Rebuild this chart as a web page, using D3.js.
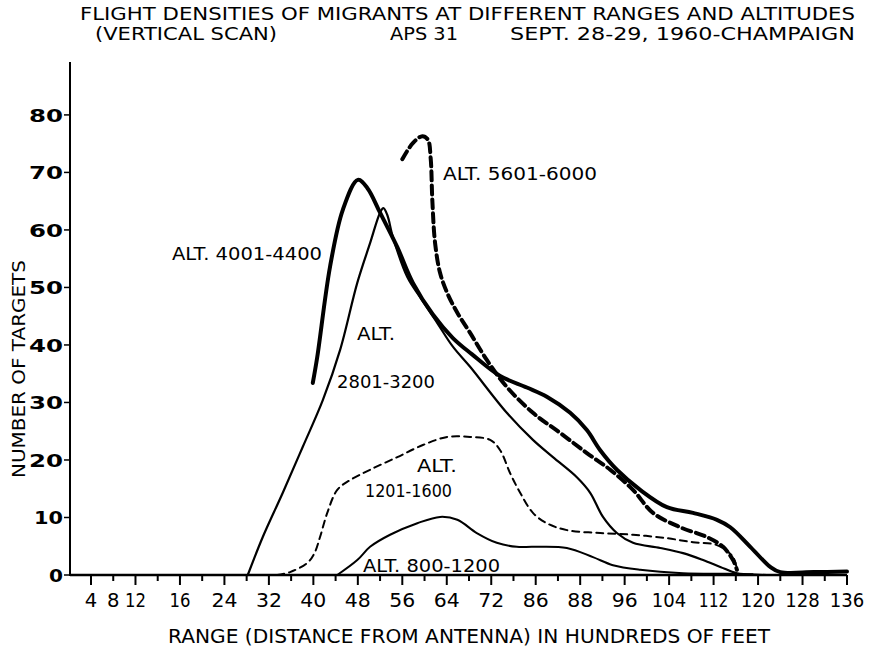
<!DOCTYPE html>
<html>
<head>
<meta charset="utf-8">
<script src="https://cdn.jsdelivr.net/npm/d3@7/dist/d3.min.js"></script>
<style>
  html, body { margin: 0; padding: 0; background: #fff; }
  svg { display: block; }
  text { font-family: "DejaVu Sans", "Liberation Sans", sans-serif; fill: #000; }
</style>
</head>
<body>
<svg id="chart" width="876" height="647"></svg>
<script>
// ---------- DATA ----------
// each series: [range (hundreds of feet), number of targets]
const alt4001_4400 = [
  [39.9,33.4],[40.7,37.9],[43.0,53.6],[45.3,63.5],[48.0,68.7],[49.7,67.3],[52.0,63.0],
  [55.1,57.0],[57.9,50.8],[61.5,45.3],[65.1,41.2],[68.5,38.4],[73.6,34.6],
  [78.4,32.6],[82.0,31.0],[86.2,28.2],[89.2,25.2],[91.6,21.7],[94.6,18.3],[98.8,14.8],
  [103.6,11.8],[108.3,10.8],[112.6,9.6],[115.0,8.3],[118.6,4.9],[122.2,1.4],[124.0,0.5],
  [130.0,0.5],[136.0,0.6]
];
const alt2801_3200 = [
  [28.2,0],[30.9,6.6],[34.5,14.3],[38.1,22.3],[41.7,30.4],[44.8,39.1],[47.9,50.8],
  [50.2,57.7],[52.0,63.0],[52.6,63.8],[53.3,62.6],[54.3,58.8],[56.9,51.8],[59.2,48.3],
  [62.3,43.8],[65.1,39.7],[68.2,36.2],[74.8,28.2],[79.5,23.5],[83.1,20.5],[87.4,17.0],
  [89.8,14.3],[92.1,10.1],[94.6,7.3],[97.5,5.6],[102.4,4.7],[106.5,3.8],[110.1,2.6],
  [113.2,1.4],[116.2,0.3],[119.0,0.1]
];
const alt5601_6000 = [
  [56.0,72.3],[57.9,75.1],[59.6,76.3],[60.6,75.7],[61.1,72.5],[61.4,65.2],[61.9,57.7],
  [62.8,52.5],[64.1,49.0],[65.9,45.6],[68.2,42.1],[71.2,37.4],[74.8,32.7],[79.5,28.2],
  [84.4,24.7],[89.2,21.2],[93.4,18.3],[97.5,14.8],[101.1,10.8],[106.0,8.3],[110.8,6.6],
  [113.7,4.9],[115.5,2.6],[116.2,0.9]
];
const alt1201_1600 = [
  [33.5,0],[35.8,0.5],[38.9,2.1],[40.2,3.8],[41.2,6.6],[42.5,10.8],[44.3,14.8],[46.6,16.5],
  [50.2,18.3],[55.1,20.5],[59.7,22.6],[64.1,24.0],[68.2,24.0],[71.8,23.5],[73.6,21.7],
  [75.4,17.7],[77.2,14.3],[79.5,10.8],[82.0,9.0],[85.6,7.8],[91.6,7.3],[97.5,7.0],
  [103.6,6.4],[108.3,5.7],[112.6,5.2],[115.5,3.1],[116.2,0.9]
];
const alt800_1200 = [
  [44.3,0],[47.9,2.6],[50.2,4.9],[53.8,7.0],[58.7,9.0],[62.8,10.1],[65.9,9.6],[69.4,7.3],
  [73.0,5.6],[76.6,4.9],[79.5,4.9],[85.6,4.7],[90.3,3.1],[93.9,1.7],[98.8,0.9],
  [106.5,0.3],[115.5,0.2],[121.6,0]
];

// tick labels (as lettered on the original drawing)
const xTickValues = [0,4,8,12,16,20,24,28,32,36,40,44,48,52,56,60,64,68,72,76,80,84,88,92,96,100,104,108,112,116,120,124,128,132,136];
const xMajorTicks = [0,8,16,24,32,40,48,56,64,72,80,88,96,104,112,120,128,136];
const xLabelValues = [0,4,8,16,24,32,40,48,56,64,72,80,88,96,104,112,120,128,136];
const xLabelTexts  = ["4","8","12","16","24","32","40","48","56","64","72","86","88","96","104","112","120","128","136"];
const yTickValues = [0,10,20,30,40,50,60,70,80];
const yLabelTexts = ["0","10","20","30","40","50","60","70","80"];

const titleLine1 = "FLIGHT DENSITIES OF MIGRANTS AT DIFFERENT RANGES AND ALTITUDES";
const titleLine2 = ["(VERTICAL SCAN)", "APS 31", "SEPT. 28-29, 1960-CHAMPAIGN"];
const xTitle = "RANGE (DISTANCE FROM ANTENNA) IN HUNDREDS OF FEET";
const yTitle = "NUMBER OF TARGETS";

// ---------- DRAWING ----------
const svg = d3.select("#chart");
const x = d3.scaleLinear().domain([-3.78, 136]).range([70, 847]);
const y = d3.scaleLinear().domain([0, 89.2]).range([575, 62]);

// axes
const xAxisG = svg.append("g").attr("transform", `translate(0,${y(0)})`);
xAxisG.append("line").attr("x1", x(-3.78)).attr("x2", x(136)).attr("y1", 0).attr("y2", 0)
  .attr("stroke", "#000").attr("stroke-width", 2.5);
xAxisG.selectAll("line.tick").data(xTickValues).enter().append("line")
  .attr("class", "tick")
  .attr("x1", d => x(d)).attr("x2", d => x(d))
  .attr("y1", 0).attr("y2", d => xMajorTicks.includes(d) ? 10 : 6)
  .attr("stroke", "#000").attr("stroke-width", 2);
xAxisG.selectAll("text").data(xLabelValues).enter().append("text")
  .attr("x", d => x(d)).attr("y", 32)
  .attr("text-anchor", "middle")
  .attr("font-size", 19)
  .attr("textLength", (d, i) => {
    const s = xLabelTexts[i];
    const ones = (s.match(/1/g) || []).length;
    return s.length * 12.5 + (s.length - 1) * 1 - ones * 5;
  })
  .attr("lengthAdjust", "spacingAndGlyphs")
  .text((d, i) => xLabelTexts[i]);

const yAxisG = svg.append("g").attr("transform", `translate(${x(-3.78)},0)`);
yAxisG.append("line").attr("x1", 0).attr("x2", 0).attr("y1", y(0) + 1).attr("y2", y(89.2))
  .attr("stroke", "#000").attr("stroke-width", 2);
yAxisG.selectAll("line.tick").data(yTickValues).enter().append("line")
  .attr("class", "tick")
  .attr("x1", -6).attr("x2", 0).attr("y1", d => y(d)).attr("y2", d => y(d))
  .attr("stroke", "#000").attr("stroke-width", 1.5);
yAxisG.selectAll("text").data(yTickValues).enter().append("text")
  .attr("x", -7).attr("y", d => y(d) + 7)
  .attr("text-anchor", "end")
  .attr("font-size", 18)
  .attr("font-weight", "bold")
  .attr("textLength", (d, i) => yLabelTexts[i].length === 1 ? 14 : (yLabelTexts[i] === "10" ? 29 : 34))
  .attr("lengthAdjust", "spacingAndGlyphs")
  .text((d, i) => yLabelTexts[i]);

// lines
const line = d3.line().x(d => x(d[0])).y(d => y(d[1])).curve(d3.curveCatmullRom.alpha(0.5));
const series = [
  { data: alt800_1200,  width: 2,   dash: null },
  { data: alt1201_1600, width: 2,   dash: "7,5" },
  { data: alt2801_3200, width: 2.2, dash: null },
  { data: alt5601_6000, width: 4,   dash: "9,5" },
  { data: alt4001_4400, width: 4,   dash: null }
];
svg.append("g").selectAll("path").data(series).enter().append("path")
  .attr("d", d => line(d.data))
  .attr("fill", "none")
  .attr("stroke", "#000")
  .attr("stroke-width", d => d.width)
  .attr("stroke-dasharray", d => d.dash)
  .attr("stroke-linecap", "round")
  .attr("stroke-linejoin", "round");

// curve labels
const curveLabels = [
  { t: "ALT. 4001-4400", x: 172, y: 260, w: 150 },
  { t: "ALT. 5601-6000", x: 443, y: 180, w: 154 },
  { t: "ALT.",           x: 357, y: 340, w: 38 },
  { t: "2801-3200",      x: 337, y: 388, w: 98 },
  { t: "ALT.",           x: 417, y: 472, w: 40 },
  { t: "1201-1600",      x: 365, y: 497, w: 87 },
  { t: "ALT. 800-1200",  x: 363, y: 572, w: 137 }
];
svg.append("g").selectAll("text").data(curveLabels).enter().append("text")
  .attr("x", d => d.x).attr("y", d => d.y)
  .attr("font-size", 17)
  .attr("textLength", d => d.w)
  .attr("lengthAdjust", "spacingAndGlyphs")
  .text(d => d.t);

// titles
svg.append("text").attr("x", 80).attr("y", 20).attr("font-size", 17.5)
  .attr("textLength", 775).attr("lengthAdjust", "spacingAndGlyphs").text(titleLine1);
const t2 = [{x: 95, w: 182}, {x: 390, w: 68}, {x: 510, w: 345}];
svg.append("g").selectAll("text").data(titleLine2).enter().append("text")
  .attr("x", (d, i) => t2[i].x).attr("y", 40).attr("font-size", 17.5)
  .attr("textLength", (d, i) => t2[i].w).attr("lengthAdjust", "spacingAndGlyphs")
  .text(d => d);

svg.append("text").attr("x", 168).attr("y", 643).attr("font-size", 20)
  .attr("textLength", 602).attr("lengthAdjust", "spacingAndGlyphs").text(xTitle);

svg.append("text")
  .attr("transform", "translate(25,369) rotate(-90)")
  .attr("text-anchor", "middle")
  .attr("font-size", 17)
  .attr("textLength", 218).attr("lengthAdjust", "spacingAndGlyphs")
  .text(yTitle);
</script>
</body>
</html>
